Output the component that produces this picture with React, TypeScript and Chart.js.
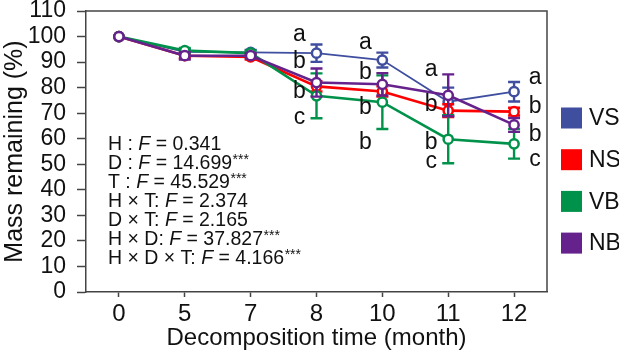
import React, { useEffect, useRef } from 'react';
import { Chart, registerables } from 'chart.js';

Chart.register(...registerables);

const months = ['0', '5', '7', '8', '10', '11', '12'];
const seriesNames = ['VS', 'NS', 'VB', 'NB'];
const seriesColors = ['#3F4E9F', '#FF0000', '#00924A', '#66228C'];
const seriesLineWidths = [1.8, 2.6, 2.6, 2.6];
const seriesOrder = [3, 2, 1, 0];

const vsMean = [100, 94, 93.8, 93.5, 90.8, 74.5, 78.4];
const vsErr = [0, 1, 1, 3.4, 2.9, 5.5, 3.8];
const nsMean = [100, 92.5, 92, 80.5, 78.5, 71, 70.6];
const nsErr = [0, 1, 1, 2, 2, 2.5, 1.5];
const vbMean = [100, 94.5, 93.5, 76.8, 74.3, 59.8, 58];
const vbErr = [0, 1, 1, 8.8, 10.5, 9.4, 5.8];
const nbMean = [100, 92.5, 92.5, 82, 81.3, 77, 65.4];
const nbErr = [0, 1.5, 1, 5.5, 4.4, 8.2, 2.7];

const allMeans = [vsMean, nsMean, vbMean, nbMean];
const allErrs = [vsErr, nsErr, vbErr, nbErr];

const yMin = 0;
const yMax = 110;
const yStep = 10;

const statTerms = ['H : ', 'D : ', 'T : ', 'H × T: ', 'D × T: ', 'H × D: ', 'H × D × T: '];
const statF = ['0.341', '14.699', '45.529', '2.374', '2.165', '37.827', '4.166'];
const statSig = ['', '***', '***', '', '', '***', '***'];

const letterMonthIdx = [3, 4, 5, 6];
const letterSide = [-1, -1, -1, 1];
const letterTexts = [
  ['a', 'b', 'b', 'c'],
  ['a', 'b', 'b', 'b'],
  ['a', 'b', 'b', 'c'],
  ['a', 'b', 'b', 'c'],
];
const letterValues = [
  [100.6, 90, 78.3, 68.1],
  [97.5, 85.7, 72, 58.3],
  [86.9, 73.2, 58.3, 50.9],
  [83.8, 72.4, 61.4, 51.7],
];

const FONT = '"Liberation Sans", Arial, Helvetica, sans-serif';
const AXIS_COLOR = '#444444';
const TEXT_COLOR = '#111111';

const errorBarPlugin = {
  id: 'errorBars',
  beforeDatasetDraw(chart: any, args: any) {
    const idx = args.index;
    const errs = allErrs[idx];
    const means = allMeans[idx];
    const meta = args.meta;
    const y = chart.scales.y;
    const ctx = chart.ctx;
    ctx.save();
    ctx.strokeStyle = seriesColors[idx];
    ctx.lineWidth = 2.4;
    meta.data.forEach((pt: any, i: number) => {
      const e = errs[i];
      if (!e) return;
      const x = pt.x;
      const yTop = y.getPixelForValue(means[i] + e);
      const yBot = y.getPixelForValue(means[i] - e);
      ctx.beginPath();
      ctx.moveTo(x, yTop);
      ctx.lineTo(x, yBot);
      ctx.moveTo(x - 6, yTop);
      ctx.lineTo(x + 6, yTop);
      ctx.moveTo(x - 6, yBot);
      ctx.lineTo(x + 6, yBot);
      ctx.stroke();
    });
    ctx.restore();
  },
};

const decorPlugin = {
  id: 'decor',
  afterDraw(chart: any) {
    const ctx = chart.ctx;
    const area = chart.chartArea;
    const xs = chart.scales.x;
    const ys = chart.scales.y;
    ctx.save();
    ctx.strokeStyle = AXIS_COLOR;
    ctx.lineWidth = 1.5;
    ctx.beginPath();
    ctx.moveTo(area.left, area.top);
    ctx.lineTo(area.right, area.top);
    ctx.lineTo(area.right, area.bottom);
    ctx.stroke();

    ctx.fillStyle = TEXT_COLOR;
    ctx.font = `23px ${FONT}`;
    ctx.textAlign = 'center';
    ctx.textBaseline = 'middle';
    letterMonthIdx.forEach((mi, k) => {
      const px = xs.getPixelForValue(mi) + (letterSide[k] < 0 ? -17 : 21);
      letterTexts[k].forEach((t, j) => {
        ctx.fillText(t, px, ys.getPixelForValue(letterValues[k][j]));
      });
    });

    ctx.textAlign = 'left';
    ctx.textBaseline = 'alphabetic';
    const sx = area.left + 22;
    statTerms.forEach((term, i) => {
      const by = area.bottom - 28 - (statTerms.length - 1 - i) * 19;
      let cx = sx;
      ctx.font = `19.5px ${FONT}`;
      ctx.fillText(term, cx, by);
      cx += ctx.measureText(term).width;
      ctx.font = `italic 19.5px ${FONT}`;
      ctx.fillText('F', cx, by);
      cx += ctx.measureText('F').width;
      ctx.font = `19.5px ${FONT}`;
      const rest = ' = ' + statF[i];
      ctx.fillText(rest, cx, by);
      cx += ctx.measureText(rest).width;
      if (statSig[i]) {
        ctx.font = `14px ${FONT}`;
        ctx.fillText(statSig[i], cx + 0.5, by - 5);
      }
    });

    const lx = area.right + 14;
    const startY = 118;
    const gap = 41.7;
    seriesNames.forEach((name, i) => {
      const cy = startY + i * gap;
      ctx.fillStyle = seriesColors[i];
      ctx.fillRect(lx, cy - 10.5, 21, 21);
      ctx.fillStyle = TEXT_COLOR;
      ctx.font = `23px ${FONT}`;
      ctx.textBaseline = 'middle';
      ctx.fillText(name, lx + 28, cy + 1);
    });
    ctx.restore();
  },
};

export default function App() {
  const ref = useRef<HTMLCanvasElement | null>(null);

  useEffect(() => {
    if (!ref.current) return;
    const datasets = seriesNames.map((name, i) => ({
      label: name,
      data: allMeans[i],
      borderColor: seriesColors[i],
      backgroundColor: '#ffffff',
      borderWidth: seriesLineWidths[i],
      pointRadius: 4.6,
      pointBorderWidth: 2.5,
      pointBackgroundColor: '#ffffff',
      pointBorderColor: seriesColors[i],
      tension: 0,
      order: seriesOrder[i],
    }));

    const chart = new Chart(ref.current, {
      type: 'line',
      data: { labels: months, datasets },
      plugins: [errorBarPlugin, decorPlugin],
      options: {
        responsive: false,
        animation: false,
        devicePixelRatio: 1,
        layout: { padding: { top: 11, right: 72, left: 0, bottom: 0 } },
        plugins: {
          legend: { display: false },
          tooltip: { enabled: false },
        },
        scales: {
          x: {
            type: 'category',
            offset: true,
            grid: {
              display: true,
              offset: false,
              drawOnChartArea: false,
              drawTicks: true,
              tickLength: 5,
              tickWidth: 1.5,
              tickColor: AXIS_COLOR,
            },
            border: { display: true, color: AXIS_COLOR, width: 1.5 },
            ticks: {
              color: TEXT_COLOR,
              font: { family: FONT, size: 24 },
              padding: 3,
              maxRotation: 0,
              autoSkip: false,
            },
            title: {
              display: true,
              text: 'Decomposition time (month)',
              color: TEXT_COLOR,
              font: { family: FONT, size: 24 },
              padding: { top: 0, bottom: 5 },
            },
            afterFit(s: any) {
              s.height = 66;
              s.paddingLeft = 0;
              s.paddingRight = 0;
            },
          },
          y: {
            min: yMin,
            max: yMax,
            ticks: {
              stepSize: yStep,
              autoSkip: false,
              color: TEXT_COLOR,
              font: { family: FONT, size: 23, lineHeight: 1 },
              padding: 11,
            },
            grid: {
              display: true,
              drawOnChartArea: false,
              drawTicks: true,
              tickLength: 9,
              tickWidth: 1.5,
              tickColor: AXIS_COLOR,
            },
            border: { display: true, color: AXIS_COLOR, width: 1.5 },
            title: {
              display: true,
              text: 'Mass remaining (%)',
              color: TEXT_COLOR,
              font: { family: FONT, size: 25 },
              padding: { top: 0, bottom: 0 },
            },
            afterFit(s: any) {
              s.width = 86;
              s.paddingTop = 0;
              s.paddingBottom = 0;
            },
          },
        },
      } as any,
    });
    return () => chart.destroy();
  }, []);

  return (
    <div style={{ position: 'fixed', left: 0, top: 0, width: 619, height: 358, background: '#ffffff' }}>
      <canvas ref={ref} width={619} height={358} style={{ width: 619, height: 358, display: 'block' }} />
    </div>
  );
}
